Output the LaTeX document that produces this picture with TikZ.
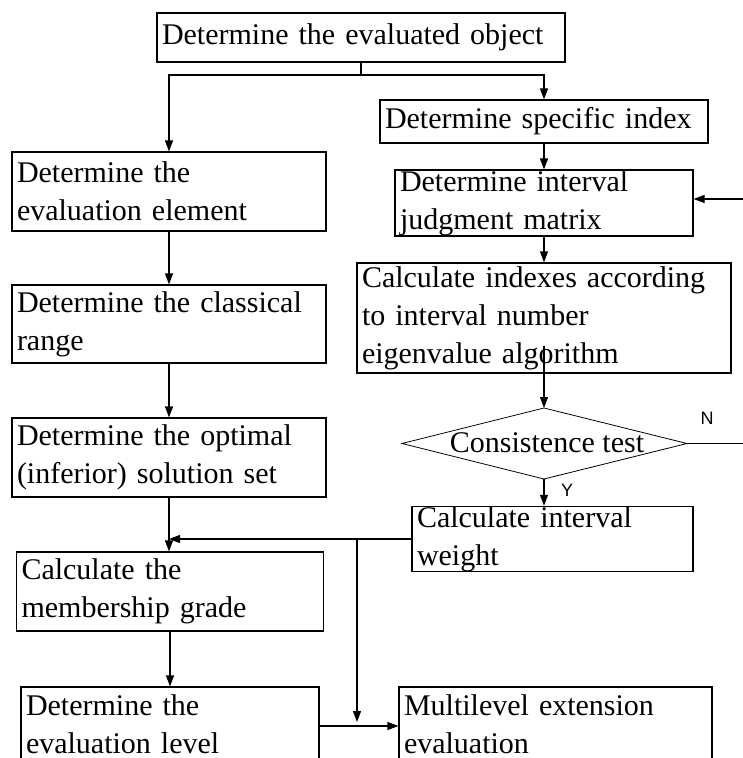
\documentclass[tikz,border=0pt]{standalone}
\usepackage{fontspec}
\setmainfont{Liberation Serif}
\newfontfamily\ynfont{Liberation Sans}
\usetikzlibrary{arrows.meta,calc}
\tikzset{
 box/.style={draw, line width=1.2pt, rectangle, inner xsep=5pt, inner ysep=0pt, align=left, font=\fontsize{30}{38}\selectfont},
 conn/.style={line width=1.2pt},
 thinconn/.style={line width=0.8pt},
 arr/.style={conn, -{Triangle[length=11pt,width=8pt]}},
 yn/.style={font=\ynfont\fontsize{18}{20}\selectfont, inner sep=0pt},
 dtext/.style={font=\fontsize{30}{38}\selectfont, inner sep=0pt},
}
\begin{document}
\begin{tikzpicture}[x=1pt,y=-1pt]
\useasboundingbox (0,0) rectangle (743,758);
\clip (0,0) rectangle (743,758);
% boxes
\node[box, minimum width=408pt, minimum height=49pt, text width=398pt] (top) at (361,37.5) {Determine the evaluated object};
\node[box, minimum width=328pt, minimum height=43pt, text width=318pt] (spec) at (544,121.5) {Determine specific index};
\node[box, minimum width=298pt, minimum height=66pt, text width=288pt] (judg) at (544,203) {Determine interval\\judgment matrix};
\node[box, minimum width=374pt, minimum height=110pt, text width=364pt] (idx) at (544,318) {Calculate indexes according\\to interval number\\eigenvalue algorithm};
\node[box, minimum width=281pt, minimum height=64pt, text width=271pt] (weight) at (552.5,539) {Calculate interval\\weight};
\node[box, minimum width=313pt, minimum height=76pt, text width=303pt, text depth=40pt] (multi) at (555.5,725) {Multilevel extension\\evaluation};
\node[box, minimum width=314pt, minimum height=79pt, text width=304pt] (elem) at (169,191.5) {Determine the\\evaluation element};
\node[box, minimum width=314pt, minimum height=78pt, text width=304pt] (range) at (169,324) {Determine the classical\\range};
\node[box, minimum width=314pt, minimum height=79pt, text width=304pt] (opt) at (169,457.5) {Determine the optimal\\(inferior) solution set};
\node[box, minimum width=307pt, minimum height=79pt, text width=297pt] (memb) at (170,591.5) {Calculate the\\membership grade};
\node[box, minimum width=298pt, minimum height=76pt, text width=288pt, text depth=40pt] (level) at (170,725) {Determine the\\evaluation level};
% diamond
\coordinate (dl) at (402,443.5);
\coordinate (dt) at (544,408);
\coordinate (dr) at (687,443.5);
\coordinate (db) at (544,479);
\draw[thinconn] (dl) -- (dt) -- (dr) -- (db) -- cycle;
\node[dtext] (dia) at (547,443) {Consistence test};
% labels
\node[yn] (nlab) at (707,418) {N};
\node[yn] (ylab) at (567,490) {Y};
% connectors
\coordinate (s1) at (361,75);
\draw[conn] (top.south) -- (s1);
\draw[arr] (s1) -| (elem.north);
\draw[arr] (s1) -| (spec.north);
\draw[arr] (spec.south) -- (judg.north);
\draw[arr] (judg.south) -- (idx.north);
\draw[arr] ([yshift=28pt]idx.south) -- (dt);
\coordinate (jin) at (743,199);
\draw[arr] (jin) -- (jin -| judg.east);
\coordinate (nout) at (743,443.5);
\draw[thinconn] (dr) -- (nout);
\draw[arr] (db) -- (db |- weight.north);
\draw[arr] (elem.south) -- (range.north);
\draw[arr] (range.south) -- (opt.north);
\draw[arr] (opt.south) -- (opt.south |- memb.north);
\draw[arr] (weight.west) -- (weight.west -| opt.south);
\coordinate (br) at (357,539);
\coordinate (be) at (357,722);
\draw[arr] (br) -- (be);
\draw[arr] (memb.south) -- (memb.south |- level.north);
\coordinate (lm) at (0,726);
\draw[arr] (level.east |- lm) -- (multi.west |- lm);
\end{tikzpicture}
\end{document}
